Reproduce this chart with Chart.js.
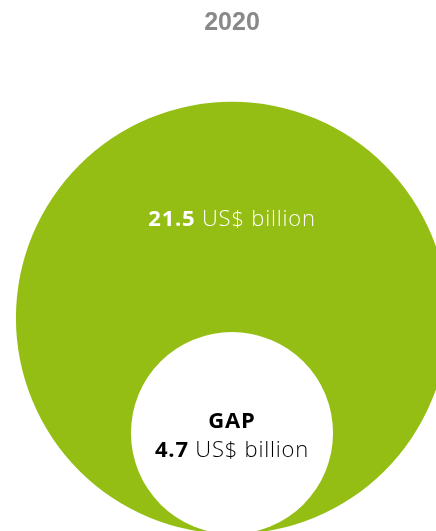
<!DOCTYPE html>
<html>
<head>
<meta charset="utf-8">
<script src="https://cdn.jsdelivr.net/npm/chart.js@4/dist/chart.umd.min.js"></script>
<style>
  html, body { margin: 0; padding: 0; background: #fff; }
  #wrap { width: 436px; height: 531px; }
</style>
</head>
<body>
<div id="wrap"><canvas id="chart" width="436" height="531"></canvas></div>
<script>
// data
const year = '2020';
const labels = ['Total', 'GAP'];
const values = [21.5, 4.7];           // US$ billion
const units = 'US$ billion';

// bubble area ~ value, both circles sit on a common baseline
const PX_PER_SQRT = 46.6;
const radii = values.map(v => PX_PER_SQRT * Math.sqrt(v));

const GREEN = '#94be13';
const TITLE_H = 36;
const PAD_LEFT = 28;

const bubbleLabels = {
  id: 'bubbleLabels',
  afterDatasetsDraw(chart) {
    const { ctx } = chart;
    const pts = chart.getDatasetMeta(0).data;
    const fam = '"Open Sans", Lato, sans-serif';
    const spacing = '0.8px';

    // mixed bold/light line, centred on cx
    function line(cx, cy, bold, rest, color, size) {
      ctx.save();
      ctx.letterSpacing = spacing;
      ctx.fillStyle = color;
      ctx.textBaseline = 'middle';
      ctx.textAlign = 'left';
      ctx.font = `bold ${size}px ${fam}`;
      const w1 = ctx.measureText(bold).width;
      ctx.font = `300 ${size}px ${fam}`;
      const w2 = ctx.measureText(rest).width;
      let x = cx - (w1 + w2) / 2;
      ctx.font = `bold ${size}px ${fam}`;
      ctx.fillText(bold, x, cy);
      ctx.font = `300 ${size}px ${fam}`;
      ctx.fillText(rest, x + w1, cy);
      ctx.restore();
    }

    const big = pts[0], small = pts[1];
    line(big.x, big.y - radii[0] + 118, values[0].toFixed(1), ' ' + units, '#ffffff', 22);

    ctx.save();
    ctx.letterSpacing = spacing;
    ctx.fillStyle = '#000';
    ctx.textAlign = 'center';
    ctx.textBaseline = 'middle';
    ctx.font = `bold 22px ${fam}`;
    ctx.fillText(labels[1], small.x, small.y - 11);
    ctx.restore();
    line(small.x, small.y + 18, values[1].toFixed(1), ' ' + units, '#000000', 22);
  }
};

new Chart(document.getElementById('chart'), {
  type: 'bubble',
  data: {
    datasets: [{
      label: year,
      data: values.map((v, i) => ({ x: 0, y: radii[i], r: radii[i] })),
      backgroundColor: [GREEN, '#ffffff'],
      borderWidth: 0,
      clip: false
    }]
  },
  options: {
    responsive: false,
    animation: false,
    events: [],
    layout: { padding: { left: PAD_LEFT, right: 0, top: 0, bottom: 0 }, autoPadding: false },
    scales: {
      x: { type: 'linear', min: -(436 - PAD_LEFT) / 2, max: (436 - PAD_LEFT) / 2, display: false },
      y: { type: 'linear', min: 3, max: 3 + 531 - TITLE_H, display: false }
    },
    plugins: {
      legend: { display: false },
      tooltip: { enabled: false },
      title: {
        display: true,
        text: year,
        color: '#898989',
        font: { family: '"Liberation Sans", Arial, sans-serif', size: 25, weight: 'bold', lineHeight: 1 },
        padding: { top: 11, bottom: 0 }
      }
    }
  },
  plugins: [bubbleLabels]
});
</script>
</body>
</html>
